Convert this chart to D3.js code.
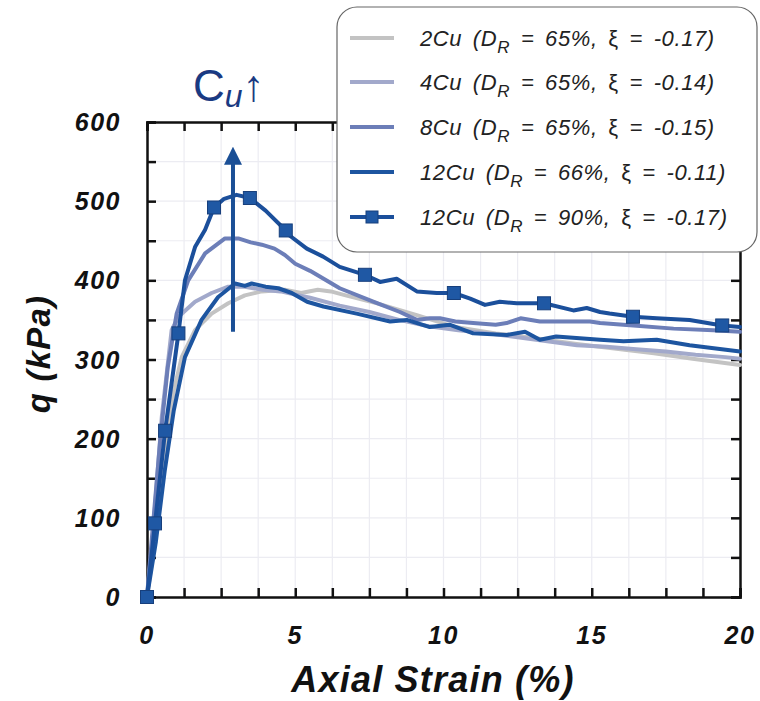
<!DOCTYPE html>
<html><head><meta charset="utf-8">
<script src="https://cdn.jsdelivr.net/npm/d3@7"></script>
<style>body{margin:0;background:#fff}svg{display:block}</style>
</head><body>
<svg id="c" width="760" height="701"></svg>
<script>
// ---- data ----
const xTicks = [0, 5, 10, 15, 20];
const yTicks = [0, 100, 200, 300, 400, 500, 600];
const seriesNames = ["2Cu", "4Cu", "8Cu", "12Cu", "12Cu"];
const seriesDR = ["65%", "65%", "65%", "66%", "90%"];
const seriesXi = ["-0.17", "-0.14", "-0.15", "-0.11", "-0.17"];
const s2Cu = [[0,0],[0.3,80],[0.6,180],[0.9,260],[1.17,303],[1.62,337],[2.18,358],[2.74,371],[3.3,381],[3.87,386],[4.65,388],[5.2,384],[5.76,388],[6.2,386],[6.7,381],[7.76,371],[9.1,356],[10.4,341],[11.76,333],[13.1,327],[14.43,320],[15.76,314],[17.1,308],[18.4,301],[20,293]];
const s4Cu = [[0,0],[0.2,80],[0.5,228],[0.83,337],[1.06,354],[1.62,373],[2.18,384],[2.74,392],[3.3,392],[3.9,388],[4.5,386],[5.5,378],[6.5,368],[7.5,360],[8.5,350],[9.5,342],[10.5,337],[11.5,333],[12.5,328],[13.5,323],[14.5,318],[15.5,316],[16.5,313],[17.5,310],[18.5,306],[19.5,303],[20,301]];
const s8Cu = [[0,0],[0.2,90],[0.45,200],[0.7,290],[1.0,358],[1.39,400],[1.96,434],[2.63,453],[3.08,453],[3.5,448],[3.87,445],[4.3,440],[4.65,432],[5.0,421],[5.5,412],[6.5,390],[7.63,373],[8.53,360],[9.1,350],[9.54,352],[9.88,352],[10.4,348],[11,346],[11.76,344],[12.13,346],[12.6,352],[13.25,348],[14.94,348],[15.28,346],[16.4,343],[17.76,339],[19.1,337],[20,335]];
const s12Cu66 = [[0,0],[0.3,70],[0.6,160],[0.9,235],[1.28,303],[1.84,350],[2.4,379],[2.97,396],[3.3,393],[3.53,396],[4.0,392],[4.43,390],[4.88,384],[5.4,373],[5.95,367],[7.07,358],[8.2,348],[8.76,350],[9.54,341],[10.2,344],[11,333],[12.13,331],[12.75,335],[13.25,325],[13.8,329],[15.28,325],[16.07,323],[17.19,325],[18.3,318],[20,310]];
const s12Cu90 = [[0,0],[0.27,93],[0.61,210],[1.06,333],[1.28,400],[1.62,442],[1.96,464],[2.26,492],[2.6,503],[3.02,508],[3.47,504],[4.0,488],[4.68,463],[4.83,456],[5.39,440],[5.94,430],[6.5,417],[7.35,407],[7.86,398],[8.42,402],[9.1,386],[9.77,384],[10.35,384],[10.9,377],[11.4,369],[11.9,373],[12.47,371],[13.39,371],[14.38,362],[14.83,365],[15.28,360],[15.6,358],[16.39,354],[17.19,352],[18.3,350],[19.4,343],[20,341]];
const markers12Cu90 = [[0,0],[0.27,93],[0.61,210],[1.06,333],[2.26,492],[3.47,504],[4.68,463],[7.35,407],[10.35,384],[13.39,371],[16.39,354],[19.4,343]];
const arrowX = 2.9, arrowFrom = 335, arrowTo = 565;

const colors = ["#c3c3c3", "#a2a9cb", "#6c7eb8", "#1d55a0", "#1b4f9b"];
const seriesData = [s2Cu, s4Cu, s8Cu, s12Cu66, s12Cu90];

// ---- layout ----
const svg = d3.select("#c");
const L = 147, R = 740, T = 122, B = 597;
const x = d3.scaleLinear().domain([0, 20]).range([L, R]);
const y = d3.scaleLinear().domain([0, 600]).range([B, T]);
const font = "'Liberation Sans', Arial, sans-serif";

// grid
const xMinor = d3.range(0, 20.001, 1.25);
const yMinor = d3.range(0, 600.001, 50);
svg.append("g").selectAll("line").data(xMinor.slice(1, -1)).join("line")
  .attr("x1", d => x(d)).attr("x2", d => x(d)).attr("y1", T).attr("y2", B)
  .attr("stroke", "#ececf2").attr("stroke-width", 1.2);
svg.append("g").selectAll("line").data(yMinor.slice(1, -1)).join("line")
  .attr("y1", d => y(d)).attr("y2", d => y(d)).attr("x1", L).attr("x2", R)
  .attr("stroke", "#ececf2").attr("stroke-width", 1.2);

// axes (ticks inward)
const axB = d3.axisBottom(x).tickValues(xMinor).tickSize(-9).tickFormat("");
const axT = d3.axisTop(x).tickValues(xMinor).tickSize(-9).tickFormat("");
const axL = d3.axisLeft(y).tickValues(yMinor).tickSize(-9).tickFormat("");
const axR = d3.axisRight(y).tickValues(yMinor).tickSize(-9).tickFormat("");
[[axB, `translate(0,${B})`], [axT, `translate(0,${T})`], [axL, `translate(${L},0)`], [axR, `translate(${R},0)`]].forEach(([a, t]) => {
  const g = svg.append("g").attr("transform", t).call(a);
  g.select(".domain").attr("stroke", "#111").attr("stroke-width", 2.5);
  g.selectAll(".tick line").attr("stroke", "#111").attr("stroke-width", 2.5);
});

// tick labels
svg.append("g").selectAll("text").data(xTicks).join("text")
  .attr("x", d => x(d)).attr("y", 644).attr("text-anchor", "middle")
  .attr("font-family", font).attr("font-weight", "bold").attr("font-style", "italic")
  .attr("font-size", 25).attr("letter-spacing", 1.5).attr("fill", "#111").text(d => d);
svg.append("g").selectAll("text").data(yTicks).join("text")
  .attr("x", 121).attr("y", d => y(d) + 9).attr("text-anchor", "end")
  .attr("font-family", font).attr("font-weight", "bold").attr("font-style", "italic")
  .attr("font-size", 25).attr("letter-spacing", 1.5).attr("fill", "#111").text(d => d);

// axis titles
svg.append("text").attr("x", 433).attr("y", 692).attr("text-anchor", "middle")
  .attr("font-family", font).attr("font-weight", "bold").attr("font-style", "italic")
  .attr("font-size", 36).attr("letter-spacing", 1.2).attr("fill", "#111").text("Axial Strain (%)");
svg.append("text").attr("transform", "translate(50,354) rotate(-90)").attr("text-anchor", "middle")
  .attr("font-family", font).attr("font-weight", "bold").attr("font-style", "italic")
  .attr("font-size", 33).attr("letter-spacing", 1.2).attr("fill", "#111").text("q (kPa)");

// lines
const line = d3.line().x(d => x(d[0])).y(d => y(d[1])).curve(d3.curveLinear);
seriesData.forEach((s, i) => {
  svg.append("path").datum(s).attr("d", line).attr("fill", "none")
    .attr("stroke", colors[i]).attr("stroke-width", 4)
    .attr("stroke-linejoin", "round").attr("stroke-linecap", "round");
});
svg.append("g").selectAll("rect").data(markers12Cu90).join("rect")
  .attr("x", d => x(d[0]) - 6.5).attr("y", d => y(d[1]) - 6.5).attr("width", 13).attr("height", 13)
  .attr("fill", "#1f58a4").attr("stroke", "#173f7c").attr("stroke-width", 1);

// arrow
svg.append("defs").append("marker").attr("id", "ah").attr("viewBox", "0 0 10 10")
  .attr("refX", 5).attr("refY", 5).attr("markerWidth", 4.5).attr("markerHeight", 4.5)
  .attr("orient", "auto").attr("markerUnits", "strokeWidth")
  .append("path").attr("d", "M0,0 L10,5 L0,10 Z").attr("fill", "#1a4f96");
svg.append("line").attr("x1", x(arrowX)).attr("x2", x(arrowX))
  .attr("y1", y(arrowFrom)).attr("y2", y(arrowTo) + 6)
  .attr("stroke", "#1a4f96").attr("stroke-width", 4).attr("marker-end", "url(#ah)");

// Cu label
const cu = svg.append("text").attr("x", 193).attr("y", 101).attr("font-family", font)
  .attr("font-size", 44).attr("fill", "#1a3a82");
cu.append("tspan").text("C");
cu.append("tspan").attr("font-style", "italic").attr("font-size", 32).attr("dy", 6).text("u");
cu.append("tspan").attr("dy", -6).attr("font-size", 44).text("↑");

// legend
const lg = svg.append("g");
lg.append("rect").attr("x", 337).attr("y", 7).attr("width", 420).attr("height", 245)
  .attr("rx", 20).attr("fill", "#fff").attr("stroke", "#666").attr("stroke-width", 1.2);
const ly = [38, 82, 127, 172, 217];
seriesNames.forEach((n, i) => {
  lg.append("line").attr("x1", 350).attr("x2", 394).attr("y1", ly[i]).attr("y2", ly[i])
    .attr("stroke", colors[i]).attr("stroke-width", 4);
  if (i === 4) lg.append("rect").attr("x", 366).attr("y", ly[i] - 6).attr("width", 12).attr("height", 12)
    .attr("fill", "#1f58a4").attr("stroke", "#173f7c");
  const t = lg.append("text").attr("x", 420).attr("y", ly[i] + 8).attr("font-family", font)
    .attr("font-style", "italic").attr("font-size", 22).attr("letter-spacing", 0.6)
    .attr("word-spacing", 4).attr("fill", "#222");
  t.append("tspan").text(`${n} (D`);
  t.append("tspan").attr("font-size", 17).attr("dy", 7).text("R");
  t.append("tspan").attr("dy", -7).text(` = ${seriesDR[i]}, `);
  t.append("tspan").attr("font-style", "normal").text("ξ");
  t.append("tspan").text(` = ${seriesXi[i]})`);
});
</script>
</body></html>
